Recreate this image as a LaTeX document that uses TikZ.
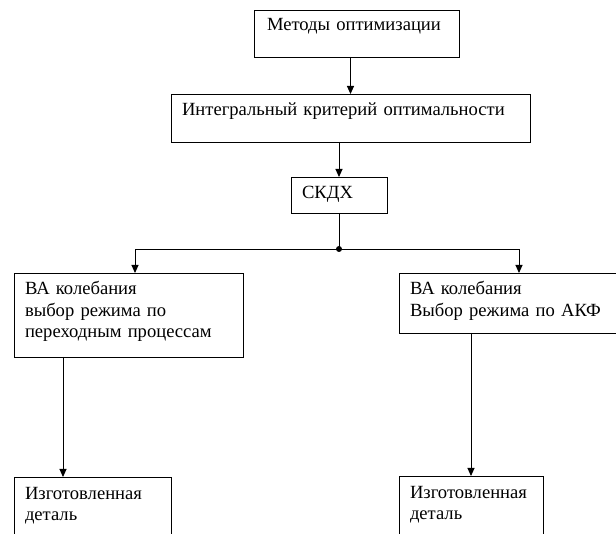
\documentclass[tikz,border=0pt]{standalone}
\usepackage{fontspec}
\setmainfont{Liberation Serif}
\usetikzlibrary{arrows.meta}

\tikzset{
  blok/.style={draw, line width=0.9pt, anchor=north west, align=left,
    inner xsep=11pt, inner ysep=0pt, outer sep=0pt, text height=22pt,
    font=\fontsize{18.6}{21.5}\selectfont},
  strelka/.style={line width=0.9pt, -{Triangle[length=8pt, width=7pt]}},
}

\begin{document}
\begin{tikzpicture}[x=1pt, y=-1pt]

  \useasboundingbox (0,0) rectangle (616,534);
  \clip (0,0) rectangle (616,534);

  % --- chain at the top ---
  \node[blok, text width=179pt, text depth=26pt, inner xsep=13pt, text height=21pt]
    (metody) at (254,10) {Методы оптимизации};
  \node[blok, text width=337pt, text depth=26pt]
    (integral) at (171,94) {Интегральный критерий оптимальности};
  \node[blok, text width=74pt, text depth=14pt]
    (skdh) at (291,177) {СКДХ};

  \draw[strelka] (metody.south -| integral.north) -- (integral.north);
  \draw[strelka] (integral.south -| skdh.north) -- (skdh.north);

  % --- the two branches ---
  \node[blok, text width=207pt, text depth=62pt]
    (vaL) at (14,273) {ВА колебания\\выбор режима по\\переходным процессам};
  \node[blok, text width=218pt, text depth=38pt]
    (vaR) at (399,273) {ВА колебания\\Выбор режима по АКФ};

  \coordinate (uzel) at (skdh.south |- 0,249);
  \coordinate (povL) at (135,249);
  \coordinate (povR) at (519,249);
  \draw[line width=0.9pt] (skdh.south) -- (uzel);
  \fill (uzel) circle (3pt);
  \draw[strelka] (uzel) -- (povL) -- (povL |- vaL.north);
  \draw[strelka] (uzel) -- (povR) -- (povR |- vaR.north);

  % --- bottom boxes, cut by the page edge ---
  \node[blok, text width=135pt, text depth=80pt]
    (izdL) at (14,477) {Изготовленная\\деталь};
  \node[blok, text width=122pt, text depth=80pt]
    (izdR) at (399,476) {Изготовленная\\деталь};

  \draw[strelka] ([xshift=49]vaL.south west) -- ([xshift=49]izdL.north west);
  \draw[strelka] ([xshift=72]vaR.south west) -- ([xshift=72]izdR.north west);

\end{tikzpicture}
\end{document}
